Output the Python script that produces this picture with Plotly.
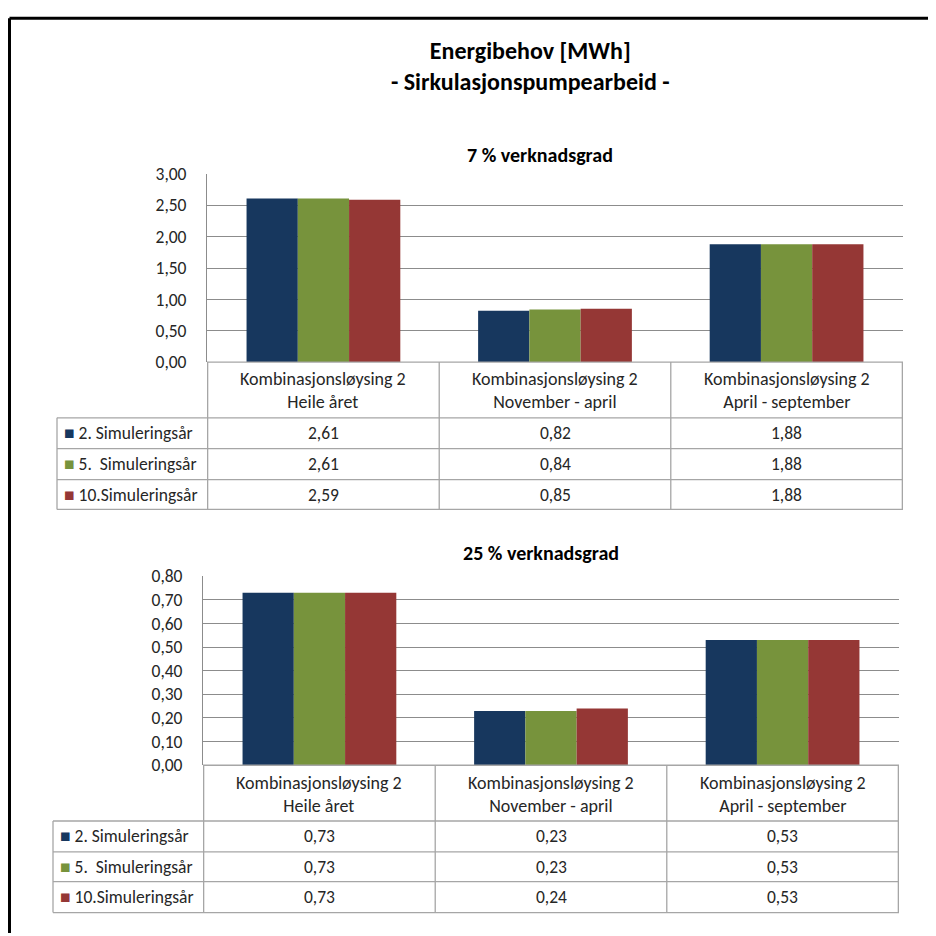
"""Energibehov [MWh] - Sirkulasjonspumpearbeid: two bar charts with data tables."""

import plotly.graph_objects as go

W, H = 936, 936
FONT = "Carlito, Lato, 'Liberation Sans', sans-serif"
INK = "#262626"
GRID = "#8C8C8C"
TABLE_LINE = "#A6A6A6"

# Data ----------------------------------------------------------------------
PERIODS = ["Heile året", "November - april", "April - september"]
SOLUTION = "Kombinasjonsløysing 2"
SERIES = ["2. Simuleringsår", "5.  Simuleringsår", "10.Simuleringsår"]
COLORS = ["#17375E", "#77933C", "#953735"]

# 7 % verknadsgrad
EFF7_YEAR2 = [2.61, 0.82, 1.88]
EFF7_YEAR5 = [2.61, 0.84, 1.88]
EFF7_YEAR10 = [2.59, 0.85, 1.88]

# 25 % verknadsgrad
EFF25_YEAR2 = [0.73, 0.23, 0.53]
EFF25_YEAR5 = [0.73, 0.23, 0.53]
EFF25_YEAR10 = [0.73, 0.24, 0.53]

CATEGORIES = [f"{SOLUTION}<br>{p}" for p in PERIODS]

# the page puts the figure a little right/down of the window corner and
# squeezes it slightly in height; map screen pixels onto paper fractions
OFF_X, OFF_Y, SY = 8.0, 16.3, 0.981


def px(x):
    return (x - OFF_X) / W


def py(y):
    return 1 - (y - OFF_Y) / (SY * H)


# panel geometry in screen pixels
PANELS = [
    dict(title="7 % verknadsgrad", title_x=540, title_y=153, left=207,
         right=903, top=172, bottom=361, rows=[417, 448, 479, 509], tleft=57,
         ymax=3.0, dtick=0.5,
         values=[EFF7_YEAR2, EFF7_YEAR5, EFF7_YEAR10]),
    dict(title="25 % verknadsgrad", title_x=541, title_y=553, left=203,
         right=899, top=576, bottom=766, rows=[822, 853, 883, 914], tleft=53,
         ymax=0.8, dtick=0.1,
         values=[EFF25_YEAR2, EFF25_YEAR5, EFF25_YEAR10]),
]

fig = go.Figure()
shapes = []
annotations = []

for i, p in enumerate(PANELS, start=1):
    xa = "x" if i == 1 else f"x{i}"
    ya = "y" if i == 1 else f"y{i}"
    for name, vals, color in zip(SERIES, p["values"], COLORS):
        fig.add_bar(x=CATEGORIES, y=vals, name=name, marker_color=color,
                    marker_line_width=0, xaxis=xa, yaxis=ya, showlegend=False)

    fig.update_layout({
        f"xaxis{'' if i == 1 else i}": dict(
            domain=[px(p["left"]), px(p["right"])], anchor=ya,
            showticklabels=False, showgrid=False, showline=False,
            zeroline=False, ticks="", fixedrange=True),
        f"yaxis{'' if i == 1 else i}": dict(
            domain=[py(p["bottom"]), py(p["top"])], anchor=xa,
            range=[0, p["ymax"]], dtick=p["dtick"], tickformat=".2f",
            showgrid=True, gridcolor=GRID, gridwidth=1, zeroline=False,
            showline=True, linecolor=GRID, linewidth=1, ticks="",
            ticklabelstandoff=16,
            tickfont=dict(family=FONT, size=17.5, color=INK), fixedrange=True),
    })

    # chart title
    annotations.append(dict(
        text=f"<b>{p['title']}</b>", xref="paper", yref="paper",
        x=px(p["title_x"]), y=py(p["title_y"]),
        xanchor="center", yanchor="middle", showarrow=False,
        font=dict(family=FONT, size=20, color="#000000")))

    # table grid: horizontal lines
    line = dict(color=TABLE_LINE, width=1.3)
    shapes.append(dict(type="line", xref="paper", yref="paper",
                       x0=px(p["left"]), x1=px(p["right"]),
                       y0=py(p["bottom"]), y1=py(p["bottom"]), line=line))
    for r in p["rows"]:
        shapes.append(dict(type="line", xref="paper", yref="paper",
                           x0=px(p["tleft"]), x1=px(p["right"]),
                           y0=py(r), y1=py(r), line=line))
    # vertical lines at category boundaries, via the x axis scale
    for b in [-0.5, 0.5, 1.5, 2.5]:
        shapes.append(dict(type="line", xref=xa, yref="paper", x0=b, x1=b,
                           y0=py(p["bottom"]), y1=py(p["rows"][-1]), line=line))
    shapes.append(dict(type="line", xref="paper", yref="paper",
                       x0=px(p["tleft"]), x1=px(p["tleft"]),
                       y0=py(p["rows"][0]), y1=py(p["rows"][-1]), line=line))

    # header row: category labels
    for cat in CATEGORIES:
        annotations.append(dict(
            text=cat, xref=xa, yref="paper", x=cat,
            y=py((p["bottom"] + p["rows"][0]) / 2 + 1),
            xanchor="center", yanchor="middle", showarrow=False,
            font=dict(family=FONT, size=18, color=INK)))

    # value rows with legend keys
    for k, (name, vals, color) in enumerate(zip(SERIES, p["values"], COLORS)):
        ymid = py((p["rows"][k] + p["rows"][k + 1]) / 2)
        annotations.append(dict(
            text=f'<span style="color:{color}">■</span> {name}',
            xref="paper", yref="paper", x=px(p["tleft"] + 5), y=ymid,
            xanchor="left", yanchor="middle", showarrow=False,
            font=dict(family=FONT, size=17.5, color=INK)))
        for cat, v in zip(CATEGORIES, vals):
            annotations.append(dict(
                text=f"{v:.2f}".replace(".", ","), xref=xa, yref="paper",
                x=cat, y=ymid, xanchor="center", yanchor="middle",
                showarrow=False, font=dict(family=FONT, size=17.5, color=INK)))

# main title
annotations.append(dict(
    text="<b>Energibehov [MWh]</b><br><b>- Sirkulasjonspumpearbeid -</b>",
    xref="paper", yref="paper", x=px(530), y=py(64), xanchor="center",
    yanchor="middle", showarrow=False,
    font=dict(family=FONT, size=24, color="#000000")))

# outer frame (top and left edges visible, rest runs off the page)
shapes.append(dict(type="line", xref="paper", yref="paper", x0=px(9.5), x1=1.0,
                   y0=py(15.5), y1=py(15.5), line=dict(color="#000000", width=3)))
shapes.append(dict(type="line", xref="paper", yref="paper", x0=px(9.5), x1=px(9.5),
                   y0=py(15.5), y1=0.0, line=dict(color="#000000", width=3)))

fig.update_layout(
    width=W, height=H, margin=dict(l=0, r=0, t=0, b=0),
    paper_bgcolor="white", plot_bgcolor="white",
    barmode="group", bargap=0.336, bargroupgap=0,
    separators=",.", font=dict(family=FONT, color=INK),
    shapes=shapes, annotations=annotations,
)

fig.write_html("out.html")
